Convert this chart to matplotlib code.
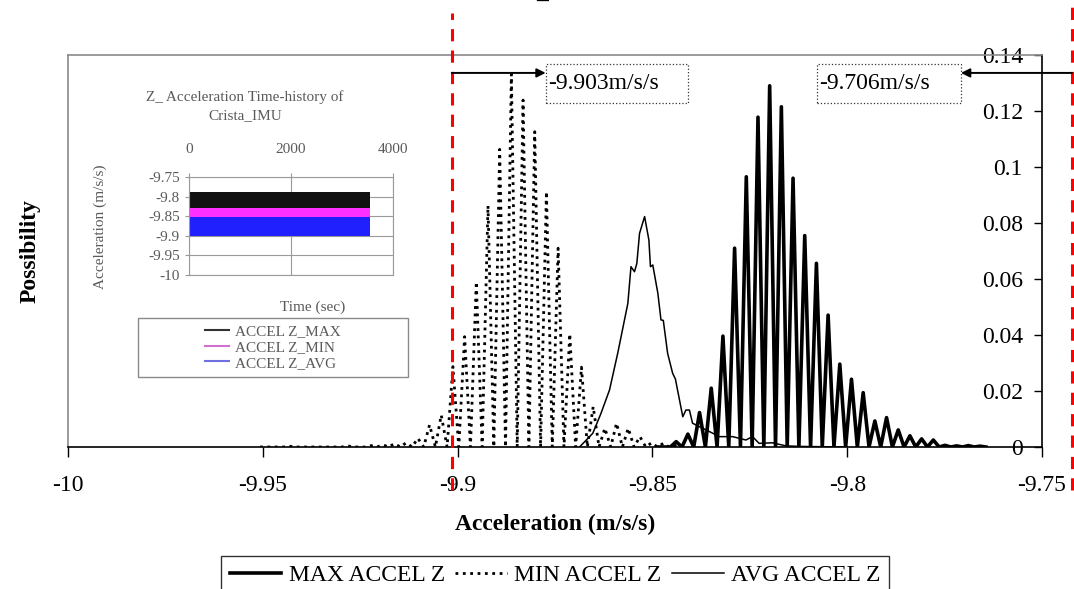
import numpy as np
import matplotlib.pyplot as plt
from matplotlib.lines import Line2D
from matplotlib.patches import Rectangle
from matplotlib.ticker import FuncFormatter

plt.rcParams['font.family'] = ['Liberation Serif', 'DejaVu Serif']
plt.rcParams['axes.unicode_minus'] = False

# histogram bins are 0.0015 m/s/s wide
bin_step = 0.0015

# MIN ACCEL Z, first bin at -9.9507
min_start = -9.9507
min_p = [0, 0, 0, 0, 0, 0.0003, 0, 0, 0, 0, 0, 0,
         0, 0, 0, 0.0004, 0, 0, 0, 0.0005, 0, 0.0008, 0, 0.0012,
         0, 0.0015, 0, 0.0031, 0, 0.0079, 0, 0.0114, 0, 0.0287, 0, 0.0394,
         0, 0.059, 0, 0.0862, 0, 0.1063, 0, 0.1332, 0, 0.1239, 0, 0.1126,
         0, 0.0912, 0, 0.071, 0, 0.0404, 0, 0.0285, 0, 0.0144, 0, 0.0067,
         0, 0.0085, 0, 0.0067, 0, 0.0037, 0, 0.0015, 0, 0.0013, 0, 0.0005, 0]

# MAX ACCEL Z, first bin at -9.8484
max_start = -9.8484
max_p = [0, 0, 0, 0.0019, 0, 0.0046, 0, 0.0123, 0, 0.021, 0, 0.0396,
         0, 0.071, 0, 0.0965, 0, 0.1178, 0, 0.129, 0, 0.1215, 0, 0.096,
         0, 0.0755, 0, 0.0656, 0, 0.0471, 0, 0.0296, 0, 0.0242, 0, 0.0194,
         0, 0.0093, 0, 0.0105, 0, 0.0061, 0, 0.004, 0, 0.0029, 0, 0.0025,
         0, 0.0006, 0, 0.0004, 0, 0.0005, 0, 0.0003, 0]

# AVG ACCEL Z
avg_x = [-9.8687, -9.8653, -9.8632, -9.861, -9.8589, -9.8563, -9.8555, -9.8546,
         -9.854, -9.8533, -9.852, -9.8509, -9.8505, -9.8499, -9.8486, -9.8478,
         -9.8472, -9.8461, -9.8448, -9.8441, -9.8422, -9.8414, -9.8405, -9.8397,
         -9.838, -9.8362, -9.8328, -9.8294, -9.826, -9.8243, -9.8226, -9.8192,
         -9.8157, -9.812, -9.80]
avg_p = [0, 0.0049, 0.012, 0.0204, 0.0335, 0.0513, 0.0644, 0.0626,
         0.0655, 0.0763, 0.0823, 0.0739, 0.0644, 0.065, 0.0549, 0.0454,
         0.0452, 0.0335, 0.0263, 0.0243, 0.0108, 0.0132, 0.0132, 0.0085,
         0.0073, 0.0061, 0.0037, 0.0037, 0.0025, 0.0037, 0.0013, 0.0015,
         0.0004, 0.0002, 0]

# limit markers and their labels
left_line, right_line = -9.9015, -9.7423
left_label, right_label = '-9.903m/s/s', '-9.706m/s/s'

x_ticks = [-10, -9.95, -9.9, -9.85, -9.8, -9.75]
y_ticks = [0, 0.02, 0.04, 0.06, 0.08, 0.1, 0.12, 0.14]

# inset: time history bands (low, high) over 0..3550 s
inset_time = [0, 3550]
inset_max_band = [-9.830, -9.788]
inset_min_band = [-9.853, -9.830]
inset_avg_band = [-9.900, -9.852]
inset_x_ticks = [0, 2000, 4000]
inset_y_ticks = [-10, -9.95, -9.9, -9.85, -9.8, -9.75]

W, H = 1074, 589
fig = plt.figure(figsize=(W / 100, H / 100), dpi=100)

def fx(px):
    return px / W

def fy(py):
    return 1 - py / H

ax = fig.add_axes([fx(68), fy(447), fx(1042) - fx(68), fy(55) - fy(447)])

max_x = max_start + bin_step * np.arange(len(max_p))
min_x = min_start + bin_step * np.arange(len(min_p))
ax.plot(min_x, min_p, color='black', lw=2.0, ls=':', label='MIN ACCEL Z', zorder=3)
ax.plot(avg_x, avg_p, color='black', lw=1.1, label='AVG ACCEL Z', zorder=3)
ax.plot(max_x, max_p, color='black', lw=2.6, label='MAX ACCEL Z', zorder=4)

ax.set_xlim(-10, -9.75)
ax.set_ylim(0, 0.14)
ax.set_xticks(x_ticks)
ax.set_yticks(y_ticks)
fmt = FuncFormatter(lambda v, p: '%g' % v)
ax.xaxis.set_major_formatter(fmt)
ax.yaxis.set_major_formatter(fmt)

for side in ['top', 'left']:
    ax.spines[side].set_color('#8a8a8a')
    ax.spines[side].set_linewidth(1.2)
for side in ['bottom', 'right']:
    ax.spines[side].set_color('black')
    ax.spines[side].set_linewidth(1.2)

ax.tick_params(axis='x', direction='out', length=7, width=1, labelsize=17, pad=13)
ax.tick_params(axis='y', left=False, labelleft=False, right=True, labelright=True,
               direction='in', length=6, width=1, labelsize=17, pad=-13.7)
for t in ax.yaxis.get_major_ticks():
    t.label2.set_horizontalalignment('right')

ax.set_xlabel('Acceleration (m/s/s)', fontsize=17, fontweight='bold')
ax.xaxis.set_label_coords(0.5, -0.17)
fig.text(fx(30), fy(251), 'Possibility', rotation=90, ha='center', va='center',
         fontsize=17, fontweight='bold')

# cut-off title
fig.text(fx(542), 1 + 1.5 / H, '_', ha='center', va='baseline', fontsize=17,
         fontweight='bold')

# red limit lines
for xv, top in [(left_line, 1.107), (right_line, 1.16)]:
    ax.axvline(xv, ymin=-0.11, ymax=top, color='#ff0000', lw=2.2,
               ls=(0, (4, 3)), clip_on=False, zorder=5)

# arrows + boxed values
arrow_y = 0.1336
box_y0, box_y1 = 0.1229, 0.1368
for (b0, b1), label, start in [((-9.8774, -9.8408), left_label, left_line),
                               ((-9.8077, -9.7708), right_label, right_line)]:
    ax.add_patch(Rectangle((b0, box_y0), b1 - b0, box_y1 - box_y0, fill=False,
                           ls=':', lw=0.9, ec='#333333', zorder=6))
    ax.text(b0 + 0.0006, (box_y0 + box_y1) / 2, label, ha='left', va='center',
            fontsize=17, zorder=6)
    end = b0 if start < b0 else b1
    ax.annotate('', xy=(end, arrow_y), xytext=(start, arrow_y),
                arrowprops=dict(arrowstyle='-|>', color='black', lw=1.4,
                                shrinkA=0, shrinkB=0, mutation_scale=13),
                annotation_clip=False, zorder=6)

handles = [Line2D([], [], color='black', lw=2.6),
           Line2D([], [], color='black', lw=2.0, ls=':'),
           Line2D([], [], color='black', lw=1.1)]
leg = ax.legend(handles, ['MAX ACCEL Z', 'MIN ACCEL Z', 'AVG ACCEL Z'],
                loc='upper center', bbox_to_anchor=(0.5, -0.278), ncol=3,
                fontsize=17, frameon=True, fancybox=False, borderaxespad=0,
                handlelength=2.2, handletextpad=0.3, columnspacing=0.45,
                borderpad=0.35)
leg.get_frame().set_edgecolor('black')
leg.get_frame().set_linewidth(1.0)

# ---- inset: faded time-history chart ----
grey = '#5a5a5a'
ai = fig.add_axes([fx(189), fy(275), fx(393) - fx(189), fy(177) - fy(275)])
ai.fill_between(inset_time, inset_avg_band[0], inset_avg_band[1], color='#2020ff', lw=0)
ai.fill_between(inset_time, inset_min_band[0], inset_min_band[1], color='#ff30ff', lw=0)
ai.fill_between(inset_time, inset_max_band[0], inset_max_band[1], color='#111111', lw=0)
ai.set_xlim(0, 4000)
ai.set_ylim(-10, -9.75)
ai.set_xticks(inset_x_ticks)
ai.set_yticks(inset_y_ticks)
ai.xaxis.set_major_formatter(fmt)
ai.yaxis.set_major_formatter(fmt)
ai.xaxis.tick_top()
ai.tick_params(axis='both', labelsize=11, labelcolor=grey, color='#999999', length=3)
ai.tick_params(axis='x', pad=12)
ai.grid(True, color='#9a9a9a', lw=0.8)
ai.set_axisbelow(True)
for s in ai.spines.values():
    s.set_color('#9a9a9a')
fig.text(fx(245), fy(97), 'Z_ Acceleration Time-history of', ha='center', va='center',
         fontsize=11, color=grey)
fig.text(fx(245), fy(116), 'Crista_IMU', ha='center', va='center', fontsize=11, color=grey)
fig.text(fx(100), fy(227), 'Acceleration (m/s/s)', rotation=90, ha='center', va='center',
         fontsize=11, color=grey)
fig.text(fx(313), fy(307), 'Time (sec)', ha='center', va='center', fontsize=11, color=grey)
fig.add_artist(Rectangle((fx(138), fy(377)), fx(408) - fx(138), fy(318) - fy(377),
                         transform=fig.transFigure, fill=False, ec='#8a8a8a', lw=1))
ileg = fig.legend([Line2D([], [], color='#333333', lw=1.5),
                   Line2D([], [], color='#d070d0', lw=1.5),
                   Line2D([], [], color='#7070e0', lw=1.5)],
                  ['ACCEL Z_MAX', 'ACCEL Z_MIN', 'ACCEL Z_AVG'],
                  loc='center', bbox_to_anchor=(fx(273), fy(347)), frameon=False,
                  fontsize=11, handlelength=1.6, handletextpad=0.4,
                  labelspacing=0.15, borderpad=0)
for t in ileg.get_texts():
    t.set_color(grey)

fig.savefig('out.png', dpi=100)
